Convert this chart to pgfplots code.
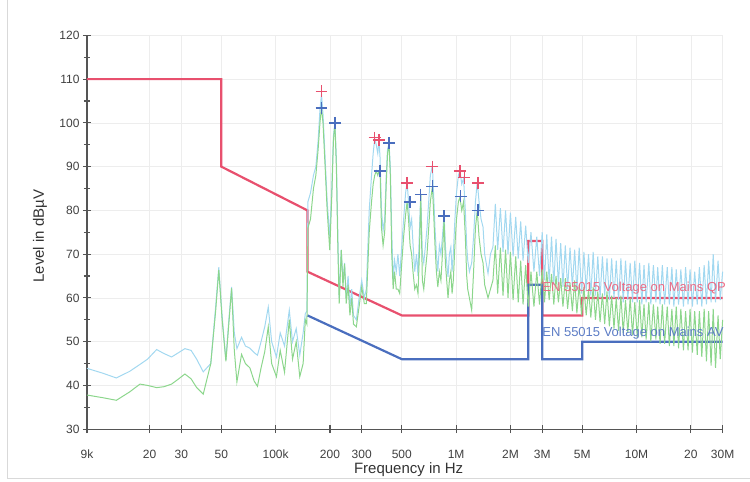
\documentclass[border=0pt]{standalone}
\usepackage{fontspec}
\setmainfont{Liberation Sans}
\usepackage{pgfplots}
\pgfplotsset{compat=1.18}
\usepackage{pgfplotstable}

\definecolor{qpred}{HTML}{E8506E}
\definecolor{avblue}{HTML}{4A6EBE}
\definecolor{qptrace}{HTML}{A2D8F0}
\definecolor{avtrace}{HTML}{8CD68C}
\definecolor{axgray}{HTML}{555555}

% measured spectrum: f [Hz], quasi-peak trace, average trace
\pgfplotstableread{
f qp av
9000 43.9 37.8
11000 42.8 37.2
13100 41.7 36.6
15500 43.2 38.5
17700 44.8 40.3
19500 46 40
21900 48.2 39.5
24000 47.3 39.7
26500 46.5 40.3
29000 47.5 41.5
31400 48.4 42.6
34000 48 41.5
36500 46 39.5
39700 43.1 38
43700 45 45
46500 58 57
48400 67 66.4
50500 56 55
53000 45.8 45.5
55000 55 54
57000 62.5 62.2
59000 52 48
61000 48.4 40.8
64700 51 47.1
68000 49 45
72000 48.5 44
76000 47.5 41
79300 46.9 39.8
83000 50 44
87000 53.4 47.7
91000 57.9 53.4
95000 50 45
101000 46.5 42
106000 52 48
112000 49 43
119000 57.2 55
124000 50 46
130000 53 50
136000 46.9 42
142000 52 45
146000 56.4 55
149000 57 54
151000 82 76
156000 84 78
162000 88 85
167000 90 88
172000 96 94
176000 103 100
179500 106.5 103.5
183000 102 100
188000 92 90
193000 82 80
199500 74 70.9
205000 86 84
209000 97 96
213000 100 99.8
217000 92 90
221000 75 72
225000 60 58.7
231000 71 70.9
236000 64 62.5
241000 68 67.8
246000 60 58.7
252000 65 63
258000 58 56
264000 62 60
270000 56 54
280000 55 53.4
290000 60 58
300000 64 62.5
310000 60 58.7
318000 62 58.7
330000 80 75
340000 88 82
347000 93 86
354000 96.4 88
361000 95 89
368000 93 88
374000 96 89
379000 92 89
386000 80 76
394000 75.4 72
402000 78 75
410000 88 86
417000 94 93
425000 95.3 95
432000 90 88
440000 75 70
448000 64 62
456000 68.6 66
466000 66 62
476000 70 62
487000 65 61
500000 72 68
512000 78 74
525000 84 79
535000 86.5 82
545000 82 78
556000 76 72
567000 78 70
577000 72.4 66
590000 66 62
603000 70 63
615000 65 61
626000 75 70
637000 83.8 83.6
650000 70 64
662000 68 62
675000 71.6 66
690000 76 70
705000 82 76
720000 88 82
739000 90.3 85.5
750000 84 80
764000 76 72
778000 70.1 66
792000 66 62.5
808000 72 66
824000 70 64
840000 74 70
858000 79 78
872000 72 68
887000 68 64
902000 64.8 60
918000 70 64
935000 71.6 66
950000 66 61
965000 70 64
985000 78 72
1005000 84 78
1030000 88 82
1050000 89.2 83
1075000 86 80
1100000 87.3 82
1125000 80 74
1145000 72 65
1160000 68.6 62
1185000 66 60
1220000 68 57.2
1250000 74 66
1280000 82 76
1310000 86.5 80
1340000 82 74
1375000 78 70
1410000 76.2 68
1440000 70 63
1503000 65.6 60
1550000 70 62
1600000 71.6 64
1650000 81.5 72
1700000 71 61
1760000 80.5 71.5
1820000 70.5 60.5
1880000 80 71
1940000 70 60
2000000 79.5 70.5
2070000 69.5 59.5
2140000 78.5 69.5
2210000 69 59
2280000 77.5 68.5
2350000 68.5 58.5
2430000 76.5 67.5
2510000 68 58
2600000 75 66
2700000 66 58
2800000 74 66
2900000 65 58.5
3000000 75 66.5
3090000 64 59
3180000 74.5 66
3280000 63.5 59.5
3380000 74 65.5
3480000 63 58.5
3580000 73.5 65
3690000 63 59
3800000 72.5 64.5
3910000 62.5 58
4030000 72 64.5
4150000 62 57.5
4280000 71.5 63.5
4410000 62.5 57
4540000 71 64
4670000 61.5 56.5
4810000 71.5 63
4960000 61 56
5110000 70.5 62.5
5260000 61.5 56
5420000 70 62
5580000 60.5 55.5
5750000 70.5 62.5
5920000 60.5 55
6100000 69.5 61.5
6280000 60 54.5
6470000 69.5 61
6660000 60.5 54
6860000 69 61.5
7070000 59.5 53.5
7280000 69 60.5
7500000 60 53
7720000 68.5 60
7950000 59.5 52.5
8190000 69 60.5
8440000 59 52
8690000 68.5 59.5
8950000 59.5 52
9220000 68 60
9500000 59 51.5
9780000 68.5 59
10100000 59 51
10400000 68 59.5
10700000 58.5 51
11000000 67.5 58.5
11300000 59 50.5
11700000 68 59
12000000 58.5 50
12400000 67.5 58.5
12800000 59 50.5
13100000 67 58
13500000 58.5 49.5
13900000 67.5 58.5
14300000 58.5 49.5
14800000 67 58
15200000 58.5 49
15700000 67 57.5
16100000 58 49
16600000 66.5 58
17100000 58.5 48.5
17600000 66.5 57.5
18200000 58 48
18700000 67 57
19300000 58.5 48
19800000 66.5 57.5
20400000 58 47.5
21000000 66 57
21700000 58.5 47
22300000 67 57
23000000 58 46.5
23700000 67.5 57.5
24400000 58.5 45.5
25100000 68.5 57
25900000 59 44.5
26600000 70 57.5
27400000 59 44
28300000 68.5 56
29100000 59.5 46
30000000 66 55
}\trace

\begin{document}
\begin{tikzpicture}
\begin{axis}[
    scale only axis,
    width=636pt, height=394pt,
    xmode=log,
    xmin=9e3, xmax=3e7,
    ymin=30, ymax=120,
    clip=false,
    axis lines=left,
    axis line style={-, axgray, line width=1.3pt},
    tick style={axgray, line width=1.1pt},
    tick align=center,
    major tick length=8pt,
    minor tick length=6pt,
    xtick={9e3,2e4,3e4,5e4,1e5,2e5,3e5,5e5,1e6,2e6,3e6,5e6,1e7,2e7,3e7},
    xticklabels={9k,20,30,50,100k,200,300,500,1M,2M,3M,5M,10M,20,30M},
    xminorticks=false,
    ytick={30,40,...,120},
    minor y tick num=1,
    grid=major,
    major grid style={black!7, line width=0.6pt},
    /pgf/number format/assume math mode=true,
    tick label style={text=black!75, font=\fontsize{12}{14}\selectfont},
    xticklabel style={anchor=base, text height=9pt, text depth=0pt, yshift=-25pt},
    xlabel={Frequency in Hz},
    ylabel={Level in dB\textmu V},
    label style={text=black!80, font=\fontsize{15}{17}\selectfont},
    xlabel style={at={(axis description cs:0.506,-0.104)}, anchor=center},
    ylabel style={at={(axis description cs:-0.074,0.49)}, anchor=center},
]

% limit lines
\addplot[qpred, line width=2.2pt] coordinates {
  (9e3,110) (5e4,110) (5e4,90) (1.5e5,80) (1.5e5,66) (5e5,56) (2.51e6,56)
  (2.51e6,73) (3e6,73) (3e6,56) (5e6,56) (5e6,60) (3e7,60)};
\addplot[avblue, line width=2.2pt] coordinates {
  (1.5e5,56) (5e5,46) (2.51e6,46) (2.51e6,63) (3e6,63) (3e6,46)
  (5e6,46) (5e6,50) (3e7,50)};

% measured traces
\addplot[qptrace, line width=1pt] table[x=f, y=qp] {\trace};
\addplot[avtrace, line width=1pt] table[x=f, y=av] {\trace};

% peak markers
\addplot[only marks, mark=+, mark size=6pt, qpred, mark options={line width=1.4pt}]
  coordinates {(179.5e3,107.2) (354e3,96.6) (374e3,96.1) (535e3,86.3)
  (739e3,90) (1.05e6,89) (1.11e6,87.5) (1.32e6,86.3)};
\addplot[only marks, mark=+, mark size=6pt, avblue, mark options={line width=1.4pt}]
  coordinates {(179.5e3,103.4) (213e3,100) (378e3,89) (425e3,95.4)
  (554e3,81.9) (637e3,83.6) (739e3,85.5) (858e3,78.7) (1.06e6,83.2) (1.32e6,80)};

\node[anchor=west, inner sep=0pt, text=qpred!85, font=\fontsize{13}{15}\selectfont]
  at (axis cs:3e6,62.2) {EN 55015 Voltage on Mains QP};
\node[anchor=west, inner sep=0pt, text=avblue!90, font=\fontsize{13}{15}\selectfont]
  at (axis cs:3e6,51.9) {EN 55015 Voltage on Mains AV};
\end{axis}
\draw[black!15, line width=0.8pt] (-80pt,429pt) -- (-80pt,-49pt) -- (663pt,-49pt);
\path[use as bounding box] (-87pt,-52pt) rectangle (663pt,429pt);
\end{tikzpicture}
\end{document}
